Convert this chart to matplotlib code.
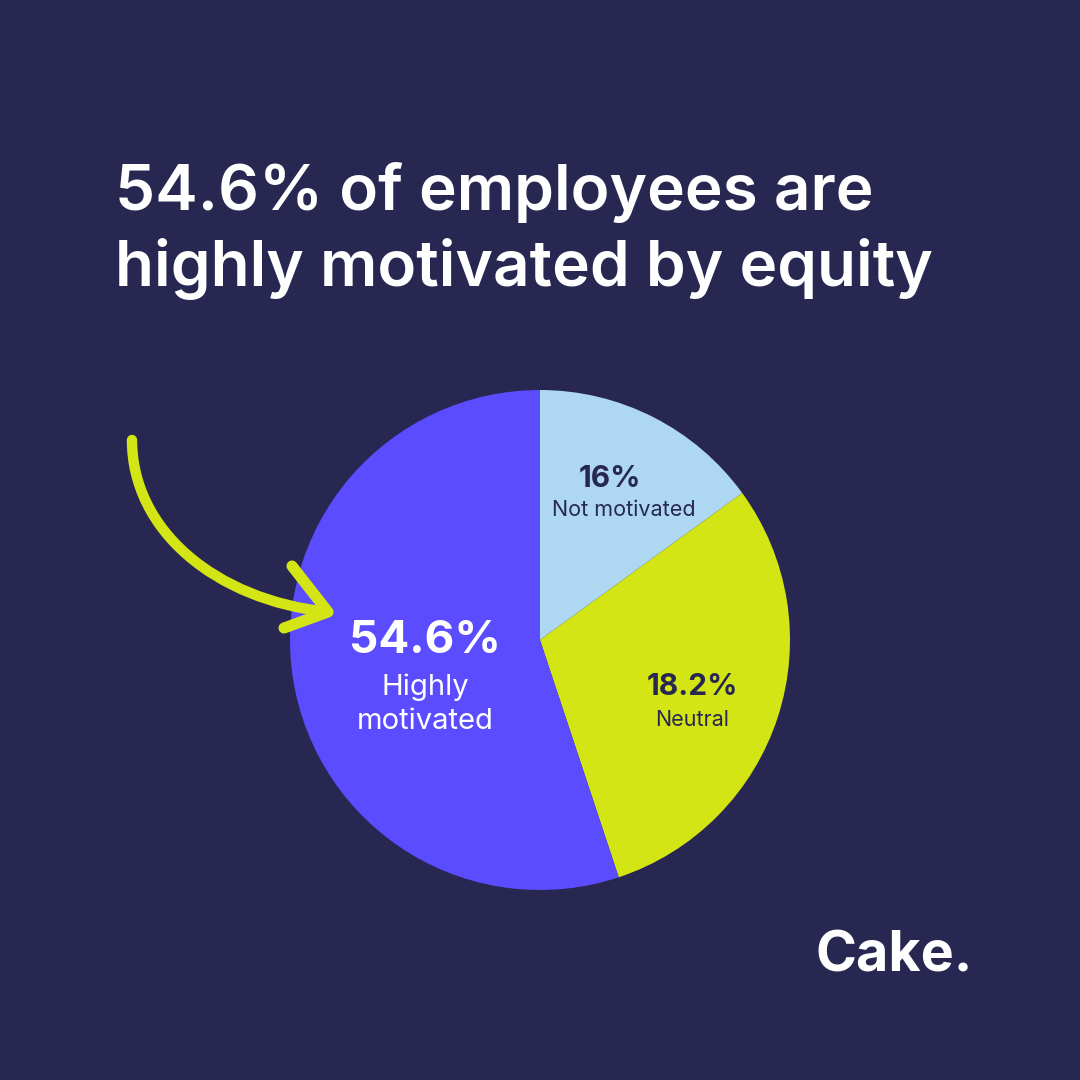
import matplotlib.pyplot as plt
from matplotlib.path import Path
from matplotlib.patches import PathPatch

# data (slice sizes as drawn, labels as printed)
categories = ["Not motivated", "Neutral", "Highly motivated"]
slice_sizes = [15.0, 29.9, 55.1]
pct_labels = ["16%", "18.2%", "54.6%"]
name_labels = ["Not motivated", "Neutral", "Highly\nmotivated"]

BG = "#272751"
colors = ["#AED8F2", "#D4E516", "#5B4CFF"]
TXT_DARK = "#272751"

plt.rcParams['font.family'] = ['Inter', 'DejaVu Sans']

fig = plt.figure(figsize=(10.8, 10.8), dpi=100, facecolor=BG)
ax = fig.add_axes([0, 0, 1, 1])
ax.set_facecolor(BG)

def Y(py):
    return 1080 - py

# title
ax.text(115, Y(210), "54.6% of employees are", color="white", fontsize=46,
        fontweight="semibold", ha="left", va="baseline")
ax.text(115, Y(286), "highly motivated by equity", color="white", fontsize=46,
        fontweight="semibold", ha="left", va="baseline")

# pie
ax.pie(slice_sizes, colors=colors, startangle=90, counterclock=False,
       center=(540, Y(640)), radius=250, frame=True,
       wedgeprops=dict(edgecolor="none"))
ax.set_xlim(0, 1080)
ax.set_ylim(0, 1080)
ax.set_aspect('equal')
ax.axis('off')

# slice labels
ax.text(610, Y(487), pct_labels[0], color=TXT_DARK, fontsize=21.5,
        fontweight="bold", ha="center", va="baseline")
ax.text(624, Y(516), name_labels[0], color=TXT_DARK, fontsize=15.5,
        ha="center", va="baseline")
ax.text(692, Y(695), pct_labels[1], color=TXT_DARK, fontsize=21.5,
        fontweight="bold", ha="center", va="baseline")
ax.text(692, Y(726), name_labels[1], color=TXT_DARK, fontsize=15.5,
        ha="center", va="baseline")
ax.text(425, Y(653), pct_labels[2], color="white", fontsize=33,
        fontweight="bold", ha="center", va="baseline")
ax.text(425, Y(695), "Highly", color="white", fontsize=21,
        ha="center", va="baseline")
ax.text(425, Y(729), "motivated", color="white", fontsize=21,
        ha="center", va="baseline")

# hand drawn arrow
acol = "#D4E516"
curve = Path([(132, Y(440)), (132, Y(530)), (215, Y(600)), (328, Y(612))],
             [Path.MOVETO, Path.CURVE4, Path.CURVE4, Path.CURVE4])
ax.add_patch(PathPatch(curve, fill=False, edgecolor=acol, lw=7.5,
                       capstyle="round", joinstyle="round"))
ax.plot([292, 328, 284], [Y(566), Y(612), Y(628)], color=acol, lw=8,
        solid_capstyle="round", solid_joinstyle="round")

# logo
ax.text(973, Y(971), "Cake.", color="white", fontsize=40,
        fontweight="bold", ha="right", va="baseline")

fig.savefig("out.png", dpi=100, facecolor=BG)
